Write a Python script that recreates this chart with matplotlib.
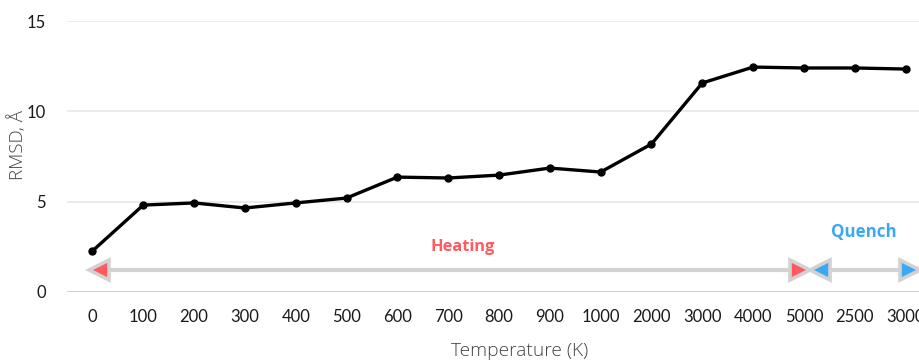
import matplotlib
matplotlib.use("Agg")
import matplotlib.pyplot as plt

temps = ["0", "100", "200", "300", "400", "500", "600", "700", "800", "900",
         "1000", "2000", "3000", "4000", "5000", "2500", "3000"]
rmsd = [2.27, 4.81, 4.93, 4.65, 4.93, 5.20, 6.36, 6.31, 6.47, 6.86,
        6.64, 8.19, 11.57, 12.45, 12.40, 12.40, 12.34]
y_ticks = [0, 5, 10, 15]

heat_color = "#ff5a60"
quench_color = "#3aa8f2"
arrow_grey = "#d2d2d2"

fig = plt.figure(figsize=(9.2, 3.62), dpi=100)
ax = fig.add_axes([67 / 920, 1 - 292 / 362, (931 - 67) / 920, (292 - 21) / 362])

x = list(range(len(temps)))
ax.set_xlim(-0.5, len(temps) - 0.5)
ax.set_ylim(0, 15)

for t in y_ticks[1:]:
    ax.axhline(t, color="#e8e8e8", lw=1.2, zorder=0)
ax.axhline(0, color="#c8c8c8", lw=1.2, zorder=0)

ax.plot(x, rmsd, color="black", lw=2.4, marker="o", ms=5, zorder=3)

# Heating and quench phase arrows
y_arr = 1.22
ax.plot([0.1, 13.9], [y_arr, y_arr], color=arrow_grey, lw=3, zorder=2, solid_capstyle="butt")
ax.plot([14.3, 16.05], [y_arr, y_arr], color=arrow_grey, lw=3, zorder=2, solid_capstyle="butt")
head = dict(ms=15, mew=2.6, mec=arrow_grey, zorder=4, clip_on=False)
ax.plot([0.13], [y_arr], marker="<", mfc=heat_color, **head)
ax.plot([13.92], [y_arr], marker=">", mfc=heat_color, **head)
ax.plot([14.32], [y_arr], marker="<", mfc=quench_color, **head)
ax.plot([16.08], [y_arr], marker=">", mfc=quench_color, **head)

ax.text(7.28, 2.5, "Heating", color=heat_color, fontsize=11.8, fontweight="bold",
        family="Open Sans", ha="center", va="center")
ax.text(15.18, 3.3, "Quench", color=quench_color, fontsize=12.2, fontweight="bold",
        family="Open Sans", ha="center", va="center")

ax.set_xticks(x)
ax.set_xticklabels(temps, family="Lato", fontsize=12)
ax.set_yticks(y_ticks)
ax.set_yticklabels([str(t) for t in y_ticks], family="Lato", fontsize=12)
ax.tick_params(length=0, pad=12, colors="#1a1a1a")
ax.tick_params(axis="y", pad=15)

for s in ax.spines.values():
    s.set_visible(False)

fig.text(520 / 920, 1 - 351 / 362, "Temperature (K)", ha="center", va="center",
         family="Open Sans", fontsize=13.8, color="#444444", fontweight="light")
fig.text(18 / 920, 1 - 145 / 362, "RMSD, Å", ha="center", va="center", rotation=90,
         family="Open Sans", fontsize=13.5, color="#444444", fontweight="light")

fig.savefig("out.png", dpi=100)
